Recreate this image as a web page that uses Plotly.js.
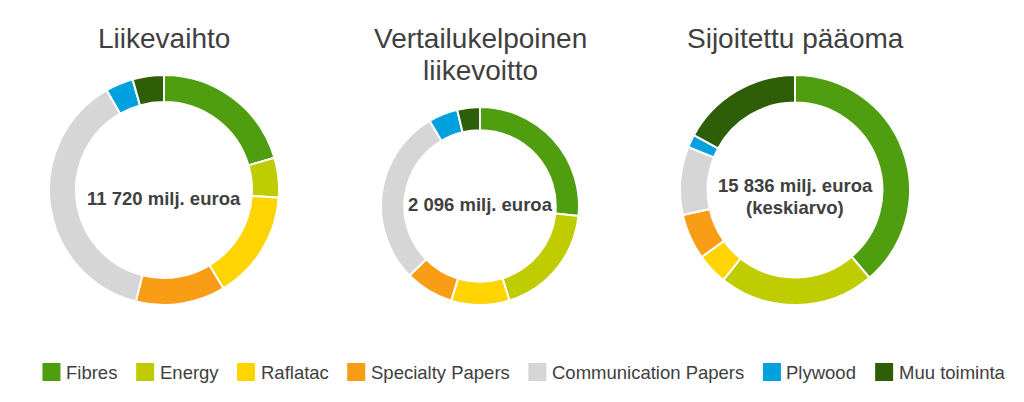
<!DOCTYPE html>
<html>
<head>
<meta charset="utf-8">
<script src="https://cdn.plot.ly/plotly-3.0.1.min.js"></script>
<style>
html,body{margin:0;padding:0;background:#fff;}
#chart{width:1024px;height:402px;}
</style>
</head>
<body>
<div id="chart"></div>
<script>
// ---- data ----
const categories = ['Fibres', 'Energy', 'Raflatac', 'Specialty Papers', 'Communication Papers', 'Plywood', 'Muu toiminta'];
const colors = ['#4f9e0f', '#bfcd00', '#ffd400', '#f99d16', '#d6d6d6', '#00a1de', '#2f5e08'];
const liikevaihto = [20.5, 5.6, 15.3, 12.6, 37.8, 3.9, 4.4];
const liikevoitto = [26.6, 18.6, 9.5, 7.9, 28.9, 4.8, 3.7];
const paaoma = [38.8, 21.9, 4.4, 6.4, 9.6, 1.8, 17.1];
const chartTitles = ['Liikevaihto', 'Vertailukelpoinen<br>liikevoitto', 'Sijoitettu pääoma'];
const centerTexts = ['11 720 milj. euroa', '2 096 milj. euroa', '15 836 milj. euroa<br>(keskiarvo)'];

// ---- layout helpers (pixels -> paper) ----
const W = 1024, H = 402;
const px = x => x / W;
const py = y => 1 - y / H;
const FONT = 'Liberation Sans, Arial, sans-serif';
const TXT = '#404040';

// donut geometry: center x, center y, radius (pixels)
const geo = [
  {cx: 164, cy: 190, r: 115, hole: 0.765, titleY: 39, centerY: 198},
  {cx: 480, cy: 206, r: 99, hole: 0.765, titleY: 39, centerY: 205},
  {cx: 795, cy: 190, r: 115, hole: 0.76, titleY: 39, centerY: 185.5}
];
const series = [liikevaihto, liikevoitto, paaoma];

const traces = series.map((vals, i) => {
  const g = geo[i];
  return {
    type: 'pie',
    labels: categories,
    values: vals,
    hole: g.hole,
    sort: false,
    direction: 'clockwise',
    rotation: 0,
    textinfo: 'none',
    hoverinfo: 'label+percent',
    showlegend: false,
    marker: {colors: colors, line: {color: '#ffffff', width: 2}},
    domain: {x: [px(g.cx - g.r), px(g.cx + g.r)], y: [py(g.cy + g.r), py(g.cy - g.r)]}
  };
});

const annotations = [];
const shapes = [];

// titles
chartTitles.forEach((t, i) => {
  const lines = t.split('<br>');
  lines.forEach((ln, k) => {
    annotations.push({
      xref: 'paper', yref: 'paper', x: px(geo[i].cx), y: py(geo[i].titleY + k * 31.7),
      xanchor: 'center', yanchor: 'middle', showarrow: false,
      text: ln, font: {family: FONT, size: 28, color: TXT}
    });
  });
});

// center texts
centerTexts.forEach((t, i) => {
  const lines = t.split('<br>');
  lines.forEach((ln, k) => {
    annotations.push({
      xref: 'paper', yref: 'paper', x: px(geo[i].cx), y: py(geo[i].centerY + k * 22),
      xanchor: 'center', yanchor: 'middle', showarrow: false,
      text: '<b>' + ln + '</b>', font: {family: FONT, size: 18.5, color: TXT}
    });
  });
});

// legend (built from categories + colors)
const LFS = 18.5, SQ = 18, GAP_T = 3.5, GAP_I = 20.8, LY = 372, LCX = 522.5;
const ctx = document.createElement('canvas').getContext('2d');
ctx.font = LFS + 'px "Liberation Sans", Arial, sans-serif';
const widths = categories.map(c => ctx.measureText(c).width);
const total = widths.reduce((a, w) => a + SQ + GAP_T + w, 0) + GAP_I * (categories.length - 1);
let x0 = LCX - total / 2;
categories.forEach((c, i) => {
  shapes.push({
    type: 'rect', xref: 'paper', yref: 'paper',
    x0: px(x0), x1: px(x0 + SQ), y0: py(LY + SQ / 2), y1: py(LY - SQ / 2),
    fillcolor: colors[i], line: {width: 0}
  });
  annotations.push({
    xref: 'paper', yref: 'paper', x: px(x0 + SQ + GAP_T), y: py(LY),
    xanchor: 'left', yanchor: 'middle', showarrow: false,
    text: c, font: {family: FONT, size: LFS, color: TXT}
  });
  x0 += SQ + GAP_T + widths[i] + GAP_I;
});

const layout = {
  width: W, height: H,
  margin: {l: 0, r: 0, t: 0, b: 0, pad: 0},
  paper_bgcolor: '#ffffff',
  showlegend: false,
  annotations: annotations,
  shapes: shapes
};

Plotly.newPlot('chart', traces, layout, {displayModeBar: false, staticPlot: true});
</script>
</body>
</html>
